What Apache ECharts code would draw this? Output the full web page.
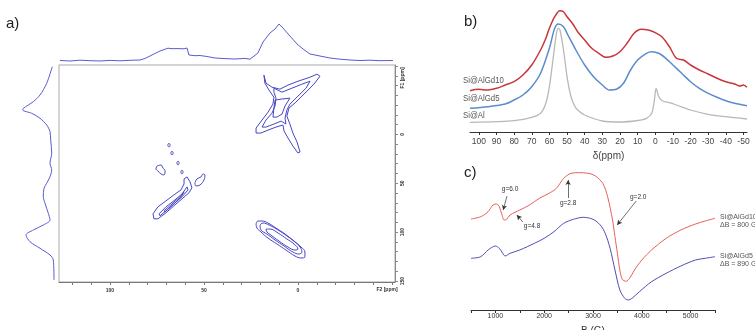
<!DOCTYPE html>
<html><head><meta charset="utf-8">
<script src="https://cdn.jsdelivr.net/npm/echarts@6/dist/echarts.min.js"></script>
<style>html,body{margin:0;padding:0;background:#fff}#c{width:755px;height:330px}</style>
</head><body><div id="c"></div>
<script>
// ---------- Panel a: 2D spectrum ----------
const aF2Labels = [100, 50, 0];
const aF2Ticks = [120, 110, 100, 90, 80, 70, 60, 50, 40, 30, 20, 10, 0, -10, -20, -30, -40, -50];
const aF1Labels = [0, 50, 100, 150];
const aF1Ticks = [-70, -60, -50, -40, -30, -20, -10, 0, 10, 20, 30, 40, 50, 60, 70, 80, 90, 100, 110, 120, 130, 140, 150];

const projTopF2 = [126.6,121.3,116,110.6,105.3,100,94.7,89.4,84,81.4,78.7,76.1,73.4,70.7,69.1,67,63.8,60.6,59,58,54.8,52.1,48.4,44.1,38.8,33.5,28.2,25.5,24.5,21.3,18.6,14.9,12.2,10.1,8.0,4.3,0.5,-2.7,-6.4,-11.7,-17,-22.3,-27.7,-33,-38.3,-43.6,-50.5];
const projTopInt = [0.5,0,0.8,0.3,0,0.6,0.2,0.7,1,2.5,5,7.5,10,11.8,12.8,12.3,12.4,12.2,13,6,5.3,5.5,4.5,3,2.4,2,2.6,1.8,1,8,19,28,32,37,33,25,17,12,7,5,3,1.8,1,0.5,0.8,0.3,0.5];

const projLeftF1 = [-69.3,-52.3,-40.3,-33.5,-26.7,-25,-21.6,-16.5,-9.6,-2.8,5.7,19.3,29.6,36.4,43.3,50,55.1,63.7,70.5,80.7,87.6,92.7,97.8,102.9,109.8,116.5,123.4,128.5,148.9];
const projLeftInt = [0.7,6.3,13,19.7,29.7,30.3,21.3,13,6.3,3,2.3,1.3,3,1.3,3,6.3,9,9.7,8,4.7,3,9.7,19.7,27,23,13,3,-0.3,-1];

// contour lines [F2, F1]
const starOuter = [[18.1,-60.6],[17.0,-52.4],[13.8,-48.3],[9.6,-46.3],[5.3,-50.4],[0,-54.4],[-6.4,-58.5],[-10.1,-61.6],[-11.7,-59.5],[-8.5,-51.4],[-3.7,-42.2],[1.1,-33.0],[4.8,-26.9],[5.9,-18.7],[4.3,-10.6],[2.7,-1.4],[0.5,7.8],[-1.1,18.0],[0,19.0],[2.7,11.9],[5.3,3.7],[7.4,-3.4],[8.0,-9.6],[11.7,-7.5],[15.9,-4.4],[19.7,-1.4],[22.3,-1.4],[22.3,-6.5],[19.1,-14.7],[15.9,-22.8],[13.3,-31.0],[12.8,-38.1],[15.4,-45.3],[17.6,-52.4],[18.1,-60.6]];
const starMid = [[12.8,-47.3],[8.5,-43.2],[3.2,-47.3],[-2.1,-51.4],[-6.4,-54.4],[-4.3,-47.3],[0,-39.1],[4.3,-31.0],[5.9,-24.9],[6.9,-16.7],[6.4,-10.6],[9.0,-13.6],[12.8,-10.6],[17.0,-7.5],[19.1,-7.5],[17.0,-14.7],[13.8,-21.8],[12.2,-29.0],[11.7,-37.1],[12.8,-43.2],[12.8,-47.3]];
const starInner = [[12.2,-35.1],[9.0,-36.1],[4.3,-37.1],[6.9,-29.0],[8.5,-20.8],[11.2,-17.7],[13.3,-17.7],[12.8,-26.9],[12.2,-35.1]];
const diagOuter = [[76.6,86.4],[77.1,81.3],[74.5,74.1],[70.2,68.0],[66.0,61.9],[62.2,56.8],[60.6,50.7],[60.6,45.6],[59.0,43.5],[57.4,48.6],[56.4,54.7],[58.0,59.8],[61.7,66.0],[66.0,73.1],[70.2,80.2],[74.5,86.4],[76.6,86.4]];
const diagMid = [[73.9,81.3],[70.2,74.1],[65.4,67.0],[61.7,60.9],[59.0,53.7],[58.5,56.8],[61.7,63.9],[66.0,71.1],[70.2,78.2],[73.4,83.3],[73.9,81.3]];
const diagInner = [[71.3,78.2],[67.0,71.1],[62.8,63.9],[60.6,58.8],[62.2,63.9],[66.5,72.1],[70.7,79.2],[71.3,78.2]];
const blobA = [[75.0,32.3],[72.9,31.3],[71.8,34.3],[70.7,37.4],[71.3,41.5],[72.9,40.4],[74.5,37.4],[75.5,35.3],[75.0,32.3]];
const blobB = [[54.8,49.6],[53.7,45.5],[51.6,43.5],[50.5,40.5],[49.5,41.5],[50.0,46.6],[52.1,51.7],[54.3,52.7],[54.8,49.6]];
const dot1 = [[68.6,8.9],[68.0,10.9],[68.6,12.9],[69.2,10.9],[68.6,8.9]];
const dot2 = [[67.0,17.0],[66.4,19.0],[67.0,21.0],[67.6,19.0],[67.0,17.0]];
const dot3 = [[63.8,27.2],[63.2,29.2],[63.8,31.2],[64.4,29.2],[63.8,27.2]];
const dot4 = [[61.7,36.4],[61.1,38.4],[61.7,40.4],[62.3,38.4],[61.7,36.4]];
const ellOuter = [[22.3,91.7],[21.3,88.6],[19.1,88.6],[16.0,90.6],[11.7,95.8],[6.9,101.9],[2.1,109.1],[-1.6,115.2],[-3.7,120.3],[-3.7,125.4],[-1.6,126.4],[1.6,124.4],[6.4,118.3],[11.2,112.1],[16.0,106.0],[19.7,99.8],[21.8,95.8],[22.3,91.7]];
const ellMid = [[20.2,92.7],[18.6,90.6],[15.4,92.7],[10.6,97.8],[5.9,103.9],[1.6,110.1],[-1.1,115.2],[-2.1,120.3],[-0.5,122.4],[2.7,120.3],[7.4,114.2],[12.2,108.0],[16.5,101.9],[19.7,97.8],[20.2,92.7]];
const ellInner = [[17.0,96.8],[14.9,96.8],[10.6,100.9],[5.9,107.0],[2.1,112.1],[0,117.3],[1.6,118.3],[5.3,115.2],[10.1,109.1],[14.4,103.0],[16.5,99.8],[17.0,96.8]];

// ---------- Panel b ----------
const bTicks = [100, 90, 80, 70, 60, 50, 40, 30, 20, 10, 0, -10, -20, -30, -40, -50];
const bGrayPpm = [105,90,80,70,65,62,60,58,56,55,54,52,50,48,46,44,40,30,20,10,5,2,0.5,-0.5,-2,-4,-8,-12,-20,-30,-40,-52];
const bGrayVal = [9.7,10.3,11.3,14.7,18.7,28.7,45.3,72,98.7,103.7,102,82,55.3,37,27,22,17,11,10,11.5,13.7,18.7,32,43.7,35.3,31.3,29.3,27,22,17.7,15.3,13];
const bBluePpm = [105,95,85,80,75,70,65,60,57,55,52,50,45,40,35,30,26,22,18,14,10,5,2,-2,-6,-10,-15,-20,-25,-30,-35,-40,-45,-52];
const bBlueVal = [23.7,25.3,28,32,37,45.3,58.7,83.7,103.7,108,105.3,98.7,82,67,55.3,47,42,42.7,48.7,62,72,78.7,80.3,78.7,73.7,67,58.7,50.3,43.7,38.7,34.7,31.3,28.7,26.3];
const bRedPpm = [105,100,95,90,85,80,75,70,65,62,60,57,54,52,50,47,44,40,36,32,28,24,20,16,12,8,4,0,-4,-8,-12,-16,-20,-25,-30,-35,-40,-45,-48,-50,-52];
const bRedVal = [41.3,42.7,42,43.7,47,50.3,57,67,82,93.7,103.7,115.3,121.3,120.3,115.3,108.7,100.3,92,83.7,78.7,74.7,76,80.3,88.7,98.7,102.7,102,99.3,94.7,85.3,73.7,72,67,62,58,53.7,50.3,48,46,47,44.7];
const bNames = ['Si@AlGd10', 'Si@AlGd5', 'Si@Al'];

// ---------- Panel c ----------
const cLabels = [1000, 2000, 3000, 4000, 5000];
const cTicks = [500, 1000, 1500, 2000, 2500, 3000, 3500, 4000, 4500, 5000, 5500];
const cRedB = [500,700,850,950,1020,1080,1130,1180,1230,1300,1400,1500,1700,1900,2100,2250,2400,2550,2700,2900,3050,3200,3300,3400,3450,3500,3550,3600,3680,3750,3850,4000,4200,4500,4800,5100,5300,5500];
const cRedV = [91,93.3,98.3,105,106,103.3,96,90,90.7,95,97.7,100,105,111.7,116.7,121.7,131.7,136.7,137.3,136.7,134,126.7,113.3,90,73.3,56.7,40,30.7,28.7,31.7,40,50,60,71.7,80,86,89,91.7];
const cBlueB = [500,700,850,1000,1080,1150,1200,1300,1500,1800,2000,2200,2400,2600,2800,3000,3150,3250,3350,3450,3550,3650,3720,3800,3950,4200,4500,4800,5100,5300,5500];
const cBlueV = [51.7,53.3,60,64,61.7,56.7,54,56.7,60,66.7,71.7,78.3,86.7,90.7,92.7,90.7,85,76.7,61.7,40,20,11.7,10,11.7,18.3,28.3,36.7,44,50,51.7,53.3];
const cGLabels = ['g=6.0', 'g=4.8', 'g=2.8', 'g=2.0'];
const cGLabelPos = [[1300,121],[1751,84],[2490,107],[3926,113]];
const cArrowFrom = [[1238,114],[1560,88],[2490,112],[3885,109]];
const cArrowTo = [[1160,100],[1440,95],[2490,130],[3495,85]];
const cSideLabels = ['Si@AlGd10', 'ΔB = 800 G', 'Si@AlGd5', 'ΔB = 890 G'];

const zip = (a, b) => a.map((v, i) => [v, b[i]]);
const chart = echarts.init(document.getElementById('c'), null, {renderer: 'canvas'});

const contourColor = '#4646c4';
function contour(data, smooth) {
  return {type: 'line', xAxisIndex: 0, yAxisIndex: 0, data: data, showSymbol: false, symbol: 'none',
    smooth: smooth || false, lineStyle: {color: contourColor, width: 1}, silent: true};
}

const sans = 'Liberation Sans, Arial, sans-serif';
function txt(t, x, y, size, color, opts) {
  const o = opts || {};
  const align = o.align || 'left';
  return {type: 'text', x: x, y: y, rotation: o.rotation || 0, scaleX: o.scaleX || 1, silent: true,
    style: {text: t, fontSize: size, fontFamily: sans, fontWeight: o.weight || 'normal', fill: color,
      align: align, verticalAlign: 'middle', textAlign: align, textVerticalAlign: 'middle'}};
}
const plain = v => String(v);

const option = {
  animation: false,
  backgroundColor: '#fff',
  grid: [
    {left: 59, top: 65, width: 336, height: 217, show: true, borderColor: '#a8a8a8', borderWidth: 1, outerBoundsMode: 'none', containLabel: false},
    {left: 59, top: 21, width: 336, height: 41, outerBoundsMode: 'none', containLabel: false},
    {left: 15, top: 65, width: 40, height: 217, outerBoundsMode: 'none', containLabel: false},
    {left: 470, top: 5, width: 277, height: 127, outerBoundsMode: 'none', containLabel: false},
    {left: 471, top: 165, width: 244, height: 145, outerBoundsMode: 'none', containLabel: false}
  ],
  xAxis: [
    {gridIndex: 0, type: 'value', min: -51.6, max: 127.1, inverse: true, position: 'bottom',
      axisLine: {show: true, onZero: false, lineStyle: {color: '#777', width: 1}},
      axisTick: {show: true, customValues: aF2Ticks, length: 3, lineStyle: {color: '#777'}},
      axisLabel: {customValues: aF2Labels, formatter: plain, fontSize: 5, color: '#333', fontWeight: 'bold', margin: 6, fontFamily: sans},
      splitLine: {show: false}},
    {gridIndex: 1, type: 'value', min: -51.6, max: 127.1, inverse: true, show: false},
    {gridIndex: 2, type: 'value', min: -2, max: 38, inverse: true, show: false},
    {gridIndex: 3, type: 'value', min: -52, max: 105, inverse: true, position: 'bottom',
      name: 'δ(ppm)', nameLocation: 'middle', nameGap: 19, nameTextStyle: {fontSize: 10, color: '#444', fontFamily: sans},
      axisLine: {show: true, onZero: false, lineStyle: {color: '#333', width: 1}},
      axisTick: {show: true, customValues: bTicks, length: 3, lineStyle: {color: '#333'}},
      axisLabel: {customValues: bTicks, formatter: plain, fontSize: 8.5, color: '#444', margin: 5, fontFamily: sans},
      splitLine: {show: false}},
    {gridIndex: 4, type: 'value', min: 500, max: 5500, position: 'bottom',
      name: 'B (G)', nameLocation: 'middle', nameGap: 16, nameTextStyle: {fontSize: 10, color: '#333', fontFamily: sans},
      axisLine: {show: true, onZero: false, lineStyle: {color: '#333', width: 1}},
      axisTick: {show: true, customValues: cTicks, length: 3, lineStyle: {color: '#333'}},
      axisLabel: {customValues: cLabels, formatter: plain, fontSize: 7, color: '#333', margin: 3, fontFamily: sans},
      splitLine: {show: false}}
  ],
  yAxis: [
    {gridIndex: 0, type: 'value', min: -71, max: 151, inverse: true, position: 'right',
      axisLine: {show: true, onZero: false, lineStyle: {color: '#888', width: 1}},
      axisTick: {show: true, customValues: aF1Ticks, length: 3, lineStyle: {color: '#888'}},
      axisLabel: {customValues: aF1Labels, formatter: plain, fontSize: 5, color: '#333', fontWeight: 'bold', margin: 5, rotate: 90, fontFamily: sans},
      splitLine: {show: false}},
    {gridIndex: 1, type: 'value', min: -1, max: 40, show: false},
    {gridIndex: 2, type: 'value', min: -71, max: 151, inverse: true, show: false},
    {gridIndex: 3, type: 'value', min: 0, max: 127, show: false},
    {gridIndex: 4, type: 'value', min: 0, max: 145, show: false}
  ],
  series: [
    {type: 'line', xAxisIndex: 1, yAxisIndex: 1, data: zip(projTopF2, projTopInt), showSymbol: false, symbol: 'none',
      lineStyle: {color: '#5a5ad0', width: 1}},
    {type: 'line', xAxisIndex: 2, yAxisIndex: 2, data: zip(projLeftInt, projLeftF1), showSymbol: false, symbol: 'none', smooth: 0.3,
      lineStyle: {color: '#5a5ad0', width: 1}},
    contour(starOuter), contour(starMid), contour(starInner),
    contour(diagOuter), contour(diagMid), contour(diagInner),
    contour(blobA, 0.4), contour(blobB, 0.4),
    contour(dot1, 0.5), contour(dot2, 0.5), contour(dot3, 0.5), contour(dot4, 0.5),
    contour(ellOuter, 0.4), contour(ellMid, 0.4), contour(ellInner, 0.4),
    {type: 'line', xAxisIndex: 3, yAxisIndex: 3, data: zip(bGrayPpm, bGrayVal), showSymbol: false, symbol: 'none', smooth: 0.3,
      lineStyle: {color: '#b8b8b8', width: 1.3}},
    {type: 'line', xAxisIndex: 3, yAxisIndex: 3, data: zip(bBluePpm, bBlueVal), showSymbol: false, symbol: 'none', smooth: 0.3,
      lineStyle: {color: '#5b8ccc', width: 1.5}},
    {type: 'line', xAxisIndex: 3, yAxisIndex: 3, data: zip(bRedPpm, bRedVal), showSymbol: false, symbol: 'none', smooth: 0.3,
      lineStyle: {color: '#c8363a', width: 1.5}},
    {type: 'line', xAxisIndex: 4, yAxisIndex: 4, data: zip(cBlueB, cBlueV), showSymbol: false, symbol: 'none', smooth: 0.3,
      lineStyle: {color: '#4e4eb4', width: 1}},
    {type: 'line', xAxisIndex: 4, yAxisIndex: 4, data: zip(cRedB, cRedV), showSymbol: false, symbol: 'none', smooth: 0.3,
      lineStyle: {color: '#e5605d', width: 1},
      markLine: {silent: true, symbol: ['none', 'arrow'], symbolSize: [4, 5], precision: 2,
        lineStyle: {color: '#333', width: 0.7, type: 'solid'}, label: {show: false},
        data: cArrowFrom.map((f, i) => [{coord: f}, {coord: cArrowTo[i]}])},
      markPoint: {silent: true, symbol: 'circle', symbolSize: 0.1,
        label: {show: true, position: 'inside', formatter: '{b}', fontSize: 6.5, color: '#333', fontFamily: sans},
        data: cGLabels.map((n, i) => ({name: n, coord: cGLabelPos[i]}))}}
  ],
  graphic: [
    txt('a)', 6, 24, 15, '#222'),
    txt('b)', 464, 22, 15, '#222'),
    txt('c)', 464, 173, 15, '#222'),
    txt('F2 [ppm]', 387, 290, 5, '#333', {align: 'center', weight: 'bold'}),
    txt('F1 [ppm]', 403, 78, 5, '#333', {align: 'center', weight: 'bold', rotation: Math.PI / 2}),
    txt(bNames[0], 463, 80, 9.5, '#555', {scaleX: 0.82}),
    txt(bNames[1], 463, 98, 9.5, '#555', {scaleX: 0.82}),
    txt(bNames[2], 463, 115, 9.5, '#555', {scaleX: 0.82}),
    txt(cSideLabels[0], 720, 217, 7, '#555'),
    txt(cSideLabels[1], 720, 225, 7, '#555'),
    txt(cSideLabels[2], 720, 256, 7, '#555'),
    txt(cSideLabels[3], 720, 264, 7, '#555')
  ]
};
chart.setOption(option);
</script></body></html>
